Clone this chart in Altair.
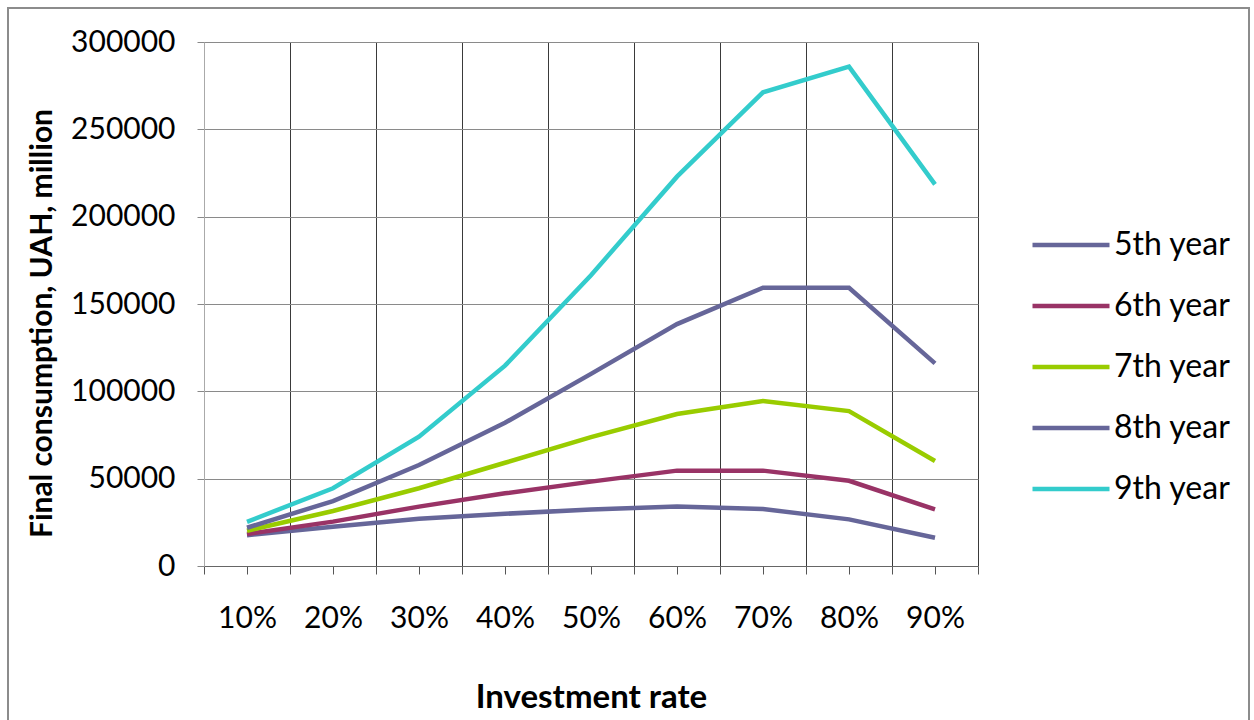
import altair as alt
import pandas as pd

# Investment rate (%) on the x axis
rates = [10, 20, 30, 40, 50, 60, 70, 80, 90]

# Final consumption, UAH million, by year of the projection
series = ["5th year", "6th year", "7th year", "8th year", "9th year"]
year5 = [17600, 22500, 27100, 29900, 32400, 34000, 32600, 26700, 16200]
year6 = [18300, 25400, 34000, 41600, 48300, 54600, 54600, 48800, 32400]
year7 = [20200, 31500, 44500, 59100, 73800, 87000, 94500, 88700, 60100]
year8 = [21900, 37200, 57800, 82000, 110000, 138500, 159300, 159300, 116000]
year9 = [25300, 44500, 74000, 114700, 166500, 222900, 271200, 285900, 218500]

colors = ["#666699", "#993366", "#99CC00", "#666699", "#33CCCC"]

rows = []
for name, vals in zip(series, [year5, year6, year7, year8, year9]):
    for r, v in zip(rates, vals):
        rows.append({"rate": r, "value": v, "series": name})
df = pd.DataFrame(rows)

FONT = "Lato"

# ticks every 5%: labels at the category centres, grid at the boundaries
x_ticks = list(range(5, 100, 5))

x_axis = alt.Axis(
    values=x_ticks,
    labelExpr="datum.value % 10 == 0 ? datum.value + '%' : ''",
    labelOverlap=False,
    labelFlush=False,
    labelFont=FONT,
    labelFontSize=30,
    labelColor="#000000",
    labelBaseline="top",
    labelPadding=29,
    tickSize=8,
    tickColor="#555555",
    domainColor="#666666",
    grid=True,
    gridColor="#3a3a3a",
    gridOpacity={"condition": {"test": "datum.value % 10 == 0", "value": 0}, "value": 1},
    title="Investment rate",
    titleFont=FONT,
    titleFontSize=33,
    titleFontWeight="bold",
    titleColor="#000000",
    titleBaseline="alphabetic",
    titleY=141,
)

y_axis = alt.Axis(
    values=[0, 50000, 100000, 150000, 200000, 250000, 300000],
    format="d",
    labelFont=FONT,
    labelFontSize=30,
    labelColor="#000000",
    labelPadding=22,
    tickSize=7,
    tickColor="#888888",
    domainColor="#aaaaaa",
    grid=True,
    gridColor="#8a8a8a",
    title="Final consumption, UAH, million",
    titleFont=FONT,
    titleFontSize=30,
    titleFontWeight="bold",
    titleColor="#000000",
    titleAngle=-90,
    titleAlign="center",
    titleBaseline="alphabetic",
    titleX=-153,
    titleY=281,
)

lines = alt.Chart(df).mark_line(strokeWidth=4.5, strokeCap="butt", strokeJoin="miter").encode(
    x=alt.X("rate:Q", scale=alt.Scale(domain=[5, 95], nice=False, zero=False), axis=x_axis),
    y=alt.Y("value:Q", scale=alt.Scale(domain=[0, 300000], nice=False), axis=y_axis),
    color=alt.Color(
        "series:N",
        scale=alt.Scale(domain=series, range=colors),
        legend=alt.Legend(
            title=None,
            orient="none",
            legendX=826,
            legendY=162,
            symbolType="stroke",
            symbolSize=5929,
            symbolStrokeWidth=4.5,
            labelFont=FONT,
            labelFontSize=32,
            labelColor="#000000",
            labelOffset=2,
            rowPadding=4,
        ),
    ),
    order=alt.Order("rate:Q"),
)

# light grey frame around the whole figure
frame = alt.Chart(pd.DataFrame({"k": [0]})).mark_rect(
    fillOpacity=0, stroke="#8c8c8c", strokeWidth=2
).encode(
    x=alt.value(-196), x2=alt.value(1045), y=alt.value(-34), y2=alt.value(700)
)

chart = alt.layer(frame, lines).properties(
    width=774,
    height=524,
    padding={"left": 204, "top": 42, "right": 276, "bottom": 154},
    autosize=alt.AutoSizeParams(type="none"),
    background="#ffffff",
).configure_view(stroke=None)

chart.save("out.html", embed_options={"renderer": "svg", "actions": False})
